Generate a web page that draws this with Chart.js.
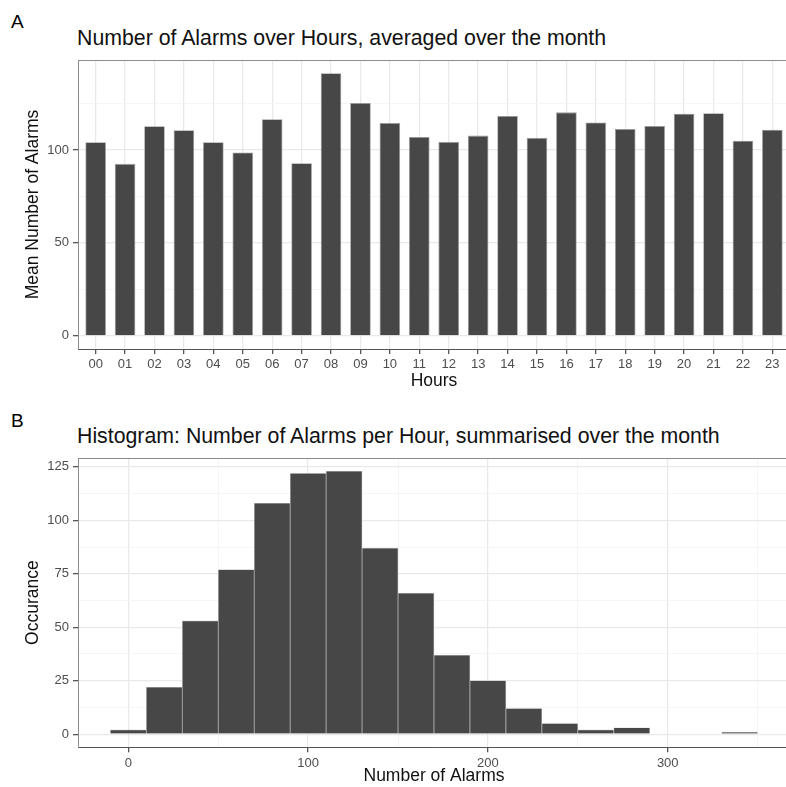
<!DOCTYPE html>
<html>
<head>
<meta charset="utf-8">
<script src="https://cdn.jsdelivr.net/npm/chart.js@4/dist/chart.umd.min.js"></script>
<style>
  html, body { margin: 0; padding: 0; background: #fff; overflow: hidden; width: 786px; height: 787px; }
  body { position: relative; font-family: "Liberation Sans", Arial, sans-serif; }
  canvas { position: absolute; left: 0; }
  .lab { position: absolute; color: #000; white-space: nowrap; }
  .tag { font-size: 19px; line-height: 19px; }
  .ttl { font-size: 21.3px; line-height: 21px; color: #111; }
</style>
</head>
<body>
<div class="lab tag" style="left:11px; top:12px;">A</div>
<div class="lab ttl" style="left:77px; top:28px;">Number of Alarms over Hours, averaged over the month</div>
<div class="lab tag" style="left:11px; top:411px;">B</div>
<div class="lab ttl" style="left:77px; top:426px;">Histogram: Number of Alarms per Hour, summarised over the month</div>
<canvas id="c1" width="790" height="395" style="top:0px;"></canvas>
<canvas id="c2" width="790" height="387" style="top:400px;"></canvas>
<script>
// ---- Data (panel A) ----
const hours = ['00','01','02','03','04','05','06','07','08','09','10','11','12','13','14','15','16','17','18','19','20','21','22','23'];
const meanAlarms = [104.1, 92.5, 112.7, 110.6, 104.1, 98.6, 116.5, 92.9, 141.3, 125.2, 114.5, 107.0, 104.3, 107.7, 118.3, 106.5, 120.2, 114.8, 111.3, 112.9, 119.5, 119.7, 105.0, 110.9];
const yMajorA = [0, 50, 100];
const yMinorA = [25, 75, 125];

// ---- Data (panel B) ----
const binCenters = [0, 20, 40, 60, 80, 100, 120, 140, 160, 180, 200, 220, 240, 260, 280, 300, 320, 340];
const binCounts  = [2, 22, 53, 77, 108, 122, 123, 87, 66, 37, 25, 12, 5, 2, 3, 0, 0, 1];
const binWidth = 20;
const xMajorB = [0, 100, 200, 300];
const xMinorB = [50, 150, 250, 350];
const yMajorB = [0, 25, 50, 75, 100, 125];
const yMinorB = [12.5, 37.5, 62.5, 87.5, 112.5];

const FONT = "'Liberation Sans', Arial, sans-serif";
const BAR = '#474747';
const GRID_MAJOR = '#e9e9e9';
const GRID_MINOR = '#f3f3f3';
const TICK_COL = '#4d4d4d';

const panelBorder = {
  id: 'panelBorder',
  afterDraw(chart) {
    const a = chart.chartArea, c = chart.ctx;
    c.save();
    c.strokeStyle = '#8c8c8c';
    c.lineWidth = 1;
    c.beginPath();
    c.moveTo(a.left, a.top + 0.5);
    c.lineTo(a.right, a.top + 0.5);
    c.stroke();
    c.restore();
  }
};

function gridOpts(majors) {
  return {
    offset: false,
    color: (ctx) => (ctx.tick && majors.includes(ctx.tick.value)) ? GRID_MAJOR : GRID_MINOR,
    lineWidth: (ctx) => (ctx.tick && majors.includes(ctx.tick.value)) ? 1.3 : 0.8,
    tickColor: (ctx) => (ctx.tick && majors.includes(ctx.tick.value)) ? '#555' : 'rgba(0,0,0,0)',
    tickLength: 5,
    drawTicks: true
  };
}

// ---- Panel A ----
const aMax = Math.max(...meanAlarms);
const aPad = aMax * 0.05;
new Chart(document.getElementById('c1'), {
  type: 'bar',
  data: {
    datasets: [{
      data: meanAlarms.map((v, i) => ({ x: i, y: v })),
      backgroundColor: BAR,
      borderColor: '#9a9a9a',
      borderWidth: 0.8,
      borderSkipped: 'bottom',
      barPercentage: 0.7,
      categoryPercentage: 1.0
    }]
  },
  options: {
    responsive: false,
    animation: false,
    devicePixelRatio: 1,
    layout: { padding: { top: 60, left: 0, right: 0, bottom: 0 } },
    plugins: { legend: { display: false }, tooltip: { enabled: false }, title: { display: false } },
    scales: {
      x: {
        type: 'linear',
        offset: false,
        min: -0.6,
        max: hours.length - 1 + 0.6,
        afterBuildTicks: (s) => { s.ticks = hours.map((h, i) => ({ value: i })); },
        afterFit: (s) => { s.height = 46; },
        ticks: { callback: (v) => hours[v], color: TICK_COL, font: { family: FONT, size: 13 }, padding: 3, maxRotation: 0, autoSkip: false },
        grid: { offset: false, color: GRID_MAJOR, lineWidth: 1.3, tickColor: '#555', tickLength: 5 },
        border: { color: '#555', width: 1 },
        title: { display: true, text: 'Hours', color: '#111', font: { family: FONT, size: 17.5 }, padding: { top: 0, bottom: 3.5 } }
      },
      y: {
        type: 'linear',
        min: -aPad,
        max: aMax + aPad,
        afterBuildTicks: (s) => { s.ticks = yMajorA.concat(yMinorA).sort((a, b) => a - b).map(v => ({ value: v })); },
        afterFit: (s) => { s.width = 78; },
        ticks: { callback: (v) => yMajorA.includes(v) ? String(v) : '', color: TICK_COL, font: { family: FONT, size: 13 }, padding: 4 },
        grid: gridOpts(yMajorA),
        border: { color: '#8c8c8c', width: 1 },
        title: { display: true, text: 'Mean Number of Alarms', color: '#111', font: { family: FONT, size: 17.5 }, padding: { top: 23, bottom: 0 } }
      }
    }
  },
  plugins: [panelBorder]
});

// ---- Panel B ----
const bMinX = Math.min(...binCenters) - binWidth / 2;
const bMaxX = Math.max(...binCenters) + binWidth / 2;
const bPadX = (bMaxX - bMinX) * 0.05;
const bMaxY = Math.max(...binCounts);
const bPadY = bMaxY * 0.05;
new Chart(document.getElementById('c2'), {
  type: 'bar',
  data: {
    datasets: [{
      data: binCenters.map((c, i) => ({ x: c, y: binCounts[i] })),
      backgroundColor: BAR,
      borderColor: '#c4c4c4',
      borderWidth: 0.7,
      borderSkipped: 'bottom',
      barPercentage: 1.0,
      categoryPercentage: 1.0
    }]
  },
  options: {
    responsive: false,
    animation: false,
    devicePixelRatio: 1,
    layout: { padding: { top: 58, left: 0, right: 0, bottom: 0 } },
    plugins: { legend: { display: false }, tooltip: { enabled: false }, title: { display: false } },
    scales: {
      x: {
        type: 'linear',
        offset: false,
        min: bMinX - bPadX,
        max: bMaxX + bPadX,
        afterBuildTicks: (s) => { s.ticks = xMajorB.concat(xMinorB).sort((a, b) => a - b).map(v => ({ value: v })); },
        afterFit: (s) => { s.height = 39.7; },
        ticks: { callback: (v) => xMajorB.includes(v) ? String(v) : '', color: TICK_COL, font: { family: FONT, size: 13 }, padding: 3, maxRotation: 0, autoSkip: false },
        grid: gridOpts(xMajorB),
        border: { color: '#555', width: 1 },
        title: { display: true, text: 'Number of Alarms', color: '#111', font: { family: FONT, size: 17.5 }, padding: { top: 0, bottom: 0 } }
      },
      y: {
        type: 'linear',
        min: -bPadY,
        max: bMaxY + bPadY,
        afterBuildTicks: (s) => { s.ticks = yMajorB.concat(yMinorB).sort((a, b) => a - b).map(v => ({ value: v })); },
        afterFit: (s) => { s.width = 78; },
        ticks: { callback: (v) => yMajorB.includes(v) ? String(v) : '', color: TICK_COL, font: { family: FONT, size: 13 }, padding: 4 },
        grid: gridOpts(yMajorB),
        border: { color: '#8c8c8c', width: 1 },
        title: { display: true, text: 'Occurance', color: '#111', font: { family: FONT, size: 17.5 }, padding: { top: 23, bottom: 0 } }
      }
    }
  },
  plugins: [panelBorder]
});
</script>
</body>
</html>
